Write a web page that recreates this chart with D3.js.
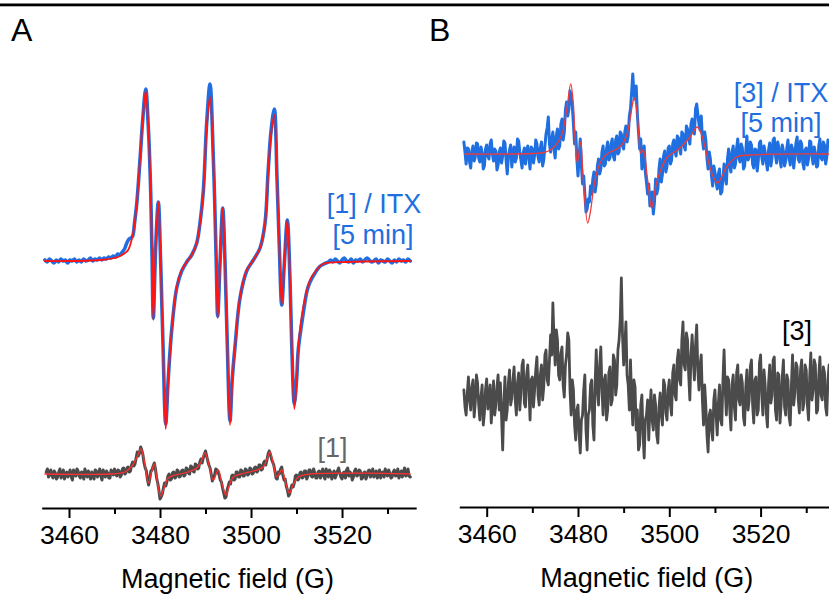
<!DOCTYPE html>
<html><head><meta charset="utf-8">
<script src="https://cdn.jsdelivr.net/npm/d3@7"></script>
<style>body{margin:0;background:#fff}svg{display:block}</style>
</head><body>
<svg id="c" width="829" height="596"></svg>
<script>
// ---------------- DATA ----------------
const majorTicks = [3460, 3480, 3500, 3520];
const minorTicks = [3470, 3490, 3510, 3530];
const panelLabels = ["A", "B"];
const xTitle = "Magnetic field (G)";
const seriesLabelsA = ["[1] / ITX", "[5 min]", "[1]"];
const seriesLabelsB = ["[3] / ITX", "[5 min]", "[3]"];

// vertical stacking offsets of the traces (a.u.)
const offsetA_top = 0, offsetA_bottom = -213;
const offsetB_top = 0, offsetB_bottom = -241;

// Panel A, [1]/ITX 5 min : measured spectrum [field G, intensity a.u.]
const specA1 = [
 [3454.7,1],[3455.2,-1],[3455.7,2],[3456.2,0],[3456.7,-2],[3457.2,1],[3457.7,-1],[3458.2,2],[3458.7,0],[3459.2,1],
 [3459.7,-2],[3460.2,1],[3460.7,0],[3461.2,2],[3461.7,-1],[3462.2,1],[3462.7,-1],[3463.2,2],[3463.7,0],[3464.2,1],
 [3464.7,3],[3465.2,0],[3465.7,2],[3466.2,1],[3466.7,3],[3467.2,1],[3467.7,3],[3468.2,2],[3468.7,4],[3469.2,3],
 [3469.7,5],[3470.2,4],[3470.7,7],[3471.2,6],[3471.7,9],[3472.2,12],[3472.7,18],[3473.2,22],[3473.6,23],[3474.0,25],
 [3474.4,38],[3474.9,58],[3475.6,101],[3476.2,141],[3476.86,172],[3477.43,134],[3477.96,68],[3478.25,5],[3478.53,-57],
 [3479.05,14],[3479.63,59],[3480.15,-2],[3480.66,-84],[3481.25,-163],[3481.82,-117],[3482.57,-69],[3483.67,-27],
 [3484.77,-10],[3485.87,-1],[3486.97,6],[3488.07,18],[3488.79,38],[3489.52,70],[3490.26,138],[3490.99,177],
 [3491.71,104],[3492.0,62],[3492.35,0],[3492.68,-55],[3493.19,-2],[3493.78,53],[3494.29,-2],[3494.79,-84],
 [3495.38,-160],[3495.89,-117],[3496.48,-86],[3497.58,-37],[3499.05,-10],[3500.51,1],[3501.98,13],[3503.08,38],
 [3503.74,88],[3504.40,130],[3505.12,152],[3505.71,83],[3506.22,14],[3506.75,-44],[3507.33,-2],[3507.98,41],
 [3508.57,-19],[3508.95,-84],[3509.52,-143],[3510.04,-117],[3510.40,-88],[3511.49,-52],[3512.3,-30],[3512.97,-21],
 [3514.07,-12],[3515.0,-6],[3516.0,-3],[3517.0,-1],
 [3517.5,1],[3518.0,-1],[3518.5,2],[3519.0,0],[3519.5,-2],[3520.0,1],[3520.5,3],[3521.0,0],[3521.5,-1],[3522.0,2],
 [3522.5,-2],[3523.0,1],[3523.5,0],[3524.0,2],[3524.5,-1],[3525.0,1],[3525.5,3],[3526.0,1],[3526.5,-1],[3527.0,0],
 [3527.5,2],[3528.0,-2],[3528.5,1],[3529.0,0],[3529.5,-1],[3530.0,2],[3530.5,0],[3531.0,-2],[3531.5,1],[3532.0,-1],
 [3532.5,2],[3533.0,0],[3533.5,1],[3534.0,-1],[3534.5,2],[3535.0,0]
];
// Panel A, [1]/ITX 5 min : simulated fit
const fitA1 = [
 [3454.7,0],[3460,0],[3465,0.5],[3468,1.5],[3470.8,4],[3472.3,8],[3473.0,11],[3474.1,28],[3474.9,58],[3475.6,101],
 [3476.2,141],[3476.86,170],[3477.43,134],[3477.96,68],[3478.25,5],[3478.53,-59],[3479.05,14],[3479.63,59],
 [3480.15,-2],[3480.66,-86],[3481.25,-168],[3481.82,-119],[3482.57,-69],[3483.67,-26],[3484.77,-9],[3485.87,-1],
 [3486.97,6],[3488.07,18],[3488.79,38],[3489.52,68],[3490.26,134],[3490.99,164],[3491.71,101],[3492.0,60],
 [3492.35,0],[3492.68,-57],[3493.19,-2],[3493.78,53],[3494.29,-2],[3494.79,-86],[3495.38,-164],[3495.89,-119],
 [3496.48,-86],[3497.58,-36],[3499.05,-9],[3500.51,1],[3501.98,13],[3503.08,38],[3503.74,86],[3504.40,126],
 [3505.12,146],[3505.71,81],[3506.22,14],[3506.75,-44],[3507.33,-2],[3507.98,41],[3508.57,-19],[3508.95,-86],
 [3509.52,-148],[3510.04,-119],[3510.40,-86],[3511.49,-46],[3512.97,-19],[3514.07,-11],[3515.82,-3],
 [3521.03,-1],[3534.95,0]
];
// Panel A, [1] : measured spectrum, 0.25 G steps from 3455 G
const specA2 = [
  2,5,-3,1,4,-2,-4,3,1,-5,-3,2,5,-4,-1,4,-5,0,2,-3,
  0,4,-3,-6,4,1,-2,5,3,-2,-4,2,1,-5,5,0,-3,3,-1,-5,
  2,-2,-5,4,3,-3,0,5,-2,-6,4,0,-3,3,1,-4,-4,4,2,-1,
  5,0,-2,4,3,-3,-1,5,6,0,1,6,7,2,3,9,12,8,10,16,
  22,18,21,27,24,19,11,6,3,-6,-11,-5,3,4,8,11,5,-4,-9,-16,
  -25,-23,-20,-14,-9,-12,-8,-2,0,-6,-5,1,2,-4,-3,4,3,-3,-2,3,
  4,-2,-1,6,5,1,0,8,7,3,2,10,9,5,6,12,15,11,16,20,
  23,18,13,9,6,0,-7,-4,-1,5,4,2,-1,-6,-8,-14,-19,-24,-23,-16,
  -12,-8,-10,-2,-1,-6,-5,2,2,-3,-3,4,3,-2,-2,5,4,-1,0,6,
  5,0,1,6,7,2,3,9,9,4,5,11,13,9,14,20,23,20,15,12,
  9,3,-4,-5,2,0,5,7,-1,-6,-5,-12,-16,-22,-20,-15,-11,-13,-9,-2,
  -1,-6,-5,1,2,-4,-3,3,3,-5,-2,4,4,-2,-3,5,1,-4,-4,2,
  3,-4,0,5,-2,-5,5,1,-3,4,2,-5,-1,3,-4,-1,3,6,1,-3,
  -5,1,2,-4,4,6,-2,2,0,-6,-3,3,5,-2,-1,4,3,-5,-4,1,
  2,-5,-2,3,4,-3,-1,5,-3,0,3,-4,0,4,-4,1,2,-3,5,0,
  -2,4,1,-4,-3,2,4,-2,-1,5,-4,0,3,-3,2,6,-2,-1,5,-2,
  -3
];
// Panel A, [1] : simulated fit
const fitA2 = [
 [3454.7,0],[3469.0,0],[3472.3,2],[3473.85,8],[3474.95,17],[3475.82,25],[3476.59,12],[3477.43,-9],[3478.02,0],
 [3478.75,10],[3479.34,-6],[3480.15,-22],[3480.88,-14],[3481.82,-4],[3483.30,-1],[3485.49,1],[3488.07,6],
 [3489.01,12],[3489.89,21],[3490.77,9],[3491.71,-6],[3492.81,4],[3493.63,-10],[3494.51,-21],[3495.27,-11],
 [3496.11,-3],[3498.68,1],[3500.51,3],[3502.70,7],[3503.52,15],[3504.18,22],[3504.95,9],[3505.65,-3],
 [3506.75,4],[3507.58,-8],[3508.42,-19],[3509.34,-10],[3510.40,-3],[3512.97,0],[3534.95,0]
];
// Panel B, [3]/ITX 5 min : measured spectrum, 0.25 G steps from 3455 G
const specB1 = [
  12,2,-10,6,5,-8,-14,3,8,-7,-3,11,10,-4,-8,7,2,-15,-12,5,
  9,-2,-5,10,14,0,-7,5,3,-16,-11,2,6,-9,-2,13,11,-6,-20,-3,
  4,9,-13,-1,7,-8,-4,15,13,2,-6,-14,1,6,-10,3,8,-4,-15,7,
  5,-9,-1,14,10,-3,-8,6,12,-12,-6,8,20,26,37,10,2,15,22,5,
  -4,18,25,5,8,30,35,14,22,44,52,38,45,63,58,48,30,10,22,-5,
  -22,-2,15,-12,-30,-22,-40,-58,-55,-45,-48,-32,-40,-25,-18,-38,-30,-12,-5,-20,
  -15,2,8,-12,-10,5,12,-6,-4,10,15,-2,-6,14,18,0,2,22,20,8,
  5,22,28,12,18,38,45,62,80,60,55,68,40,22,5,15,-15,-5,8,-18,
  -28,-40,-30,-52,-45,-38,-60,-48,-25,-40,-35,-15,-5,-28,-20,-2,3,-18,-12,6,
  8,-10,-6,10,14,2,-2,18,16,5,0,22,20,8,4,28,25,15,10,30,
  35,22,20,45,50,40,30,24,38,15,5,22,14,-4,-15,2,-5,-22,-32,-12,
  -18,-28,-35,-20,-15,-40,-38,-25,-10,-22,-30,-5,5,-12,-18,2,8,-14,-10,6,
  15,-4,-8,10,6,-15,-12,3,18,-6,-3,12,9,-10,-14,5,4,-17,-6,11,
  13,-3,-10,8,2,-8,-16,4,11,-12,-4,14,16,-1,-9,12,7,-6,-13,9,
  3,-12,-7,6,14,-4,-11,9,5,-14,-2,11,17,-5,-8,13,10,-9,-15,4,
  6,-11,-5,13,12,-2,-10,7,1,-13,-12,8,15,-4,-6,12,9,-10,-3,14,
  8
];
// Panel B, [3]/ITX 5 min : simulated fit
const fitB1 = [
 [3455.25,0],[3465,0],[3470,0.5],[3472.05,1],[3473.5,3],[3475.0,8],[3476.43,19],[3477.52,44],[3478.40,70],
 [3478.97,51],[3479.34,17],[3479.85,-9],[3480.59,12],[3481.16,-26],[3482.12,-69],[3482.78,-56],[3483.35,-36],
 [3484.10,-19],[3485.19,-6],[3486.64,1],[3488.11,4],[3489.57,9],[3490.67,19],[3491.39,34],[3491.98,51],
 [3492.33,56],[3492.86,44],[3493.36,17],[3493.73,1],[3494.3,4],[3495.18,-23],[3496.14,-54],[3496.87,-36],
 [3497.59,-23],[3499.43,-4],[3502.34,6],[3504.53,17],[3506.13,27],[3507.10,19],[3507.82,7],[3509.29,-19],
 [3510.51,-29],[3511.48,-23],[3512.57,-13],[3514.76,-3],[3517.68,-1],[3535.2,0]
];
// Panel B, [3] : measured spectrum, 0.25 G steps from 3455 G
const specB2 = [
  5,-12,-20,2,18,-5,-15,8,15,-22,-8,20,12,-10,-25,-2,10,-30,-18,6,
  16,-14,-5,10,-28,-8,14,-20,-10,8,20,-15,12,-20,-55,-10,18,-25,-15,12,
  25,-10,-3,15,28,-5,-20,12,22,-15,2,30,35,-8,-12,20,30,5,-25,15,
  18,-12,5,25,38,0,-10,20,30,-5,8,40,45,15,10,35,60,40,92,55,
  30,65,55,20,15,42,48,10,-2,30,40,62,55,5,-20,15,5,-30,-45,-15,
  -10,-40,-58,-25,-20,5,20,-35,-55,-20,-15,10,15,-30,-45,12,45,5,-10,30,
  48,5,-20,15,20,-25,-15,22,28,-10,-5,40,35,0,10,45,55,75,117,60,
  30,48,73,20,10,-15,35,-5,-30,15,8,-35,-15,-55,-50,-10,0,-40,-63,-25,
  -20,-5,-45,-15,5,-25,-35,0,-10,-40,-48,-12,2,-20,-30,15,10,-18,-25,5,
  15,-10,-20,22,30,0,-5,35,45,15,10,55,73,30,25,62,55,20,-5,40,
  60,35,15,50,70,25,5,30,40,-5,-30,10,-10,-40,-57,-20,-15,-35,-45,-5,
  5,-20,-40,-8,10,-25,-30,15,45,5,-20,18,15,-15,-35,10,20,-12,-25,22,
  30,-5,-10,20,12,-22,-30,8,25,-15,-5,28,35,-10,-28,15,18,-20,-15,32,
  40,0,-20,25,10,-18,-32,12,30,-8,0,35,38,-15,-25,22,20,-28,-10,18,
  35,-12,-20,20,15,-22,-30,10,40,-10,2,32,28,-5,-18,25,35,-15,-8,30,
  25,-10,-25,18,42,-5,5,35,30,-18,-15,20,38,0,-5,28,22,-12,-20,15,
  30
];
const gridStart = 3455, gridStep = 0.25;

// ---------------- DRAW ----------------
const FONT = "'Liberation Sans', Arial, Helvetica, sans-serif";
const BLUE = "#1f6fe0", RED = "#ff1414", GRAY = "#4b4b4b";

const svg = d3.select("#c");

const xA = d3.scaleLinear().domain([3454, 3536.3]).range([41.7, 416.2]);
const xB = d3.scaleLinear().domain([3454, 3537]).range([459.3, 838.2]);
const yA = d3.scaleLinear().domain([-250, 200]).range([511, 61]);
const yB = d3.scaleLinear().domain([-350, 100]).range([504, 54]);

const toPairs = vals => vals.map((v, i) => [gridStart + i * gridStep, v]);

function trace(pairs, x, y, off, color, width, curve) {
  const line = d3.line()
    .x(d => x(d[0]))
    .y(d => y(d[1] + off))
    .curve(curve);
  svg.append("path").datum(pairs)
    .attr("d", line)
    .attr("fill", "none")
    .attr("stroke", color)
    .attr("stroke-width", width)
    .attr("stroke-linejoin", "round")
    .attr("stroke-linecap", "round");
}

function label(x, y, txt, size, color, anchor) {
  svg.append("text")
    .attr("x", x).attr("y", y)
    .attr("text-anchor", anchor)
    .attr("font-family", FONT)
    .attr("font-size", size)
    .attr("fill", color)
    .text(txt);
}

function axis(x, yPos, titleX) {
  const g = svg.append("g").attr("transform", `translate(0,${yPos})`);
  g.call(d3.axisBottom(x).tickValues(majorTicks).tickSize(10).tickSizeOuter(0)
      .tickFormat(d3.format("d")));
  g.select(".domain").attr("stroke", "#000").attr("stroke-width", 2.2);
  g.selectAll(".tick line").attr("stroke", "#000").attr("stroke-width", 2);
  g.selectAll(".tick text")
    .attr("y", 36).attr("dy", null)
    .attr("font-family", FONT).attr("font-size", 26.5).attr("fill", "#000");
  const gm = svg.append("g").attr("transform", `translate(0,${yPos})`);
  gm.call(d3.axisBottom(x).tickValues(minorTicks).tickSize(6).tickSizeOuter(0).tickFormat(""));
  gm.select(".domain").remove();
  gm.selectAll(".tick line").attr("stroke", "#000").attr("stroke-width", 2);
  label(titleX, yPos + 80, xTitle, 27, "#000", "middle");
}

// top rule
svg.append("rect").attr("x", 0).attr("y", 3.5).attr("width", 829).attr("height", 2.8).attr("fill", "#000");

// panel letters
label(11, 41, panelLabels[0], 32, "#000", "start");
label(429, 41, panelLabels[1], 32, "#000", "start");

// Panel A
trace(specA1, xA, yA, offsetA_top, BLUE, 3.6, d3.curveCatmullRom.alpha(0.5));
trace(fitA1, xA, yA, offsetA_top, RED, 1.8, d3.curveCatmullRom.alpha(0.5));
trace(toPairs(specA2), xA, yA, offsetA_bottom, GRAY, 3.0, d3.curveLinear);
trace(fitA2, xA, yA, offsetA_bottom, "#ff3030", 1.3, d3.curveCatmullRom.alpha(0.5));
axis(xA, 508, 227.5);
label(374, 213, seriesLabelsA[0], 27, BLUE, "middle");
label(373, 244, seriesLabelsA[1], 27, BLUE, "middle");
label(332.5, 457, seriesLabelsA[2], 27, "#666", "middle");

// Panel B
trace(toPairs(specB1), xB, yB, offsetB_top, BLUE, 3.0, d3.curveLinear);
trace(fitB1, xB, yB, offsetB_top, "#f03a3a", 1.3, d3.curveCatmullRom.alpha(0.5));
trace(toPairs(specB2), xB, yB, offsetB_bottom, GRAY, 2.8, d3.curveLinear);
axis(xB, 507, 646.7);
label(781, 102, seriesLabelsB[0], 27, BLUE, "middle");
label(781, 132, seriesLabelsB[1], 27, BLUE, "middle");
label(797, 340, seriesLabelsB[2], 27, "#000", "middle");
</script>
</body></html>
